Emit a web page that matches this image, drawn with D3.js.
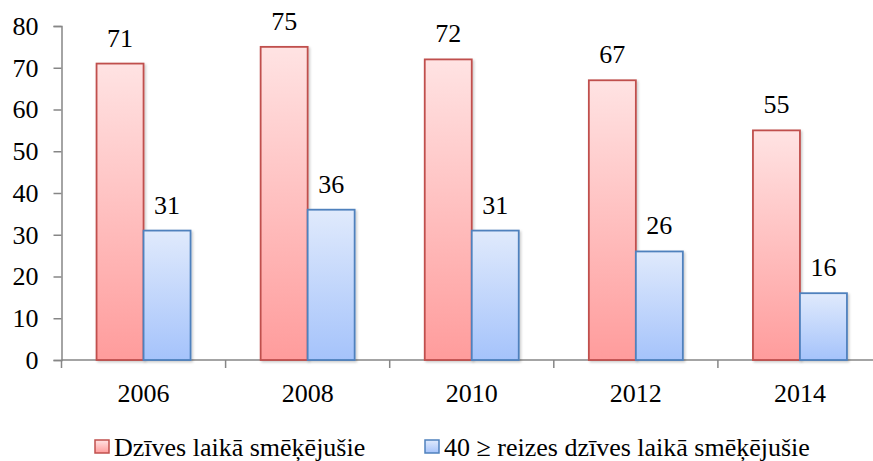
<!DOCTYPE html>
<html>
<head>
<meta charset="utf-8">
<title>Smēķēšana</title>
<script src="https://d3js.org/d3.v7.min.js"></script>
<style>
  body { margin: 0; background: #fff; }
  text { font-family: "Liberation Serif", "Times New Roman", serif; fill: #000; }
</style>
</head>
<body>
<script>
// data
var years = ["2006", "2008", "2010", "2012", "2014"];
var everSmoked = [71, 75, 72, 67, 55];
var smoked40 = [31, 36, 31, 26, 16];
var seriesNames = ["Dzīves laikā smēķējušie", "40 ≥ reizes dzīves laikā smēķējušie"];
var yTicks = [0, 10, 20, 30, 40, 50, 60, 70, 80];

var width = 873, height = 461;
var plotLeft = 61.5, plotRight = 882, plotTop = 26, plotBottom = 360;
var fs = 26;

var svg = d3.select("body").append("svg")
    .attr("width", width)
    .attr("height", height);

var defs = svg.append("defs");
function grad(id, c1, c2) {
  var g = defs.append("linearGradient")
      .attr("id", id)
      .attr("x1", 0).attr("x2", 0).attr("y1", 0).attr("y2", 1);
  g.append("stop").attr("offset", "0%").attr("stop-color", c1);
  g.append("stop").attr("offset", "100%").attr("stop-color", c2);
}
grad("g-red", "#ffe3e3", "#ff9c9c");
grad("g-blue", "#e0eafc", "#a5c3fb");

// light shadow like the office charts
var sh = defs.append("filter").attr("id", "shadow")
    .attr("x", "-10%").attr("y", "-10%").attr("width", "130%").attr("height", "130%");
sh.append("feDropShadow")
    .attr("dx", 1.5).attr("dy", 1.5).attr("stdDeviation", 1.2)
    .attr("flood-color", "#000").attr("flood-opacity", 0.2);

var x = d3.scaleBand().domain(years).range([plotLeft, plotRight]);
var y = d3.scaleLinear().domain([0, 80]).range([plotBottom, plotTop]);
var barW = 47;

// y axis
var yAxis = svg.append("g")
    .attr("transform", "translate(" + plotLeft + ",0)")
    .call(d3.axisLeft(y).tickValues(yTicks).tickSize(8).tickPadding(15));
yAxis.select(".domain").attr("stroke", "#868686").attr("stroke-width", 1.5);
yAxis.selectAll(".tick line").attr("stroke", "#868686").attr("stroke-width", 1.5);
yAxis.selectAll(".tick text")
    .attr("font-size", fs)
    .attr("font-family", "Liberation Serif, serif")
    .attr("fill", "#000");

// x axis
var xAxis = svg.append("g")
    .attr("transform", "translate(0," + plotBottom + ")");
xAxis.append("line")
    .attr("x1", plotLeft).attr("x2", plotRight)
    .attr("stroke", "#868686").attr("stroke-width", 1.5);
xAxis.selectAll(".xt")
    .data(years.map(function(d) { return x(d); }).concat([plotRight]))
  .enter().append("line")
    .attr("x1", function(d) { return d; }).attr("x2", function(d) { return d; })
    .attr("y1", 0).attr("y2", 8)
    .attr("stroke", "#868686").attr("stroke-width", 1.5);
xAxis.selectAll(".xl")
    .data(years)
  .enter().append("text")
    .attr("x", function(d) { return x(d) + x.bandwidth() / 2; })
    .attr("y", 42)
    .attr("text-anchor", "middle")
    .attr("font-size", fs)
    .text(function(d) { return d; });

// bars
function drawSeries(vals, offset, fill, stroke) {
  var g = svg.append("g");
  g.selectAll("rect")
      .data(vals)
    .enter().append("rect")
      .attr("x", function(d, i) { return x(years[i]) + x.bandwidth() / 2 + offset; })
      .attr("y", function(d) { return y(d); })
      .attr("width", barW)
      .attr("height", function(d) { return plotBottom - y(d); })
      .attr("fill", fill)
      .attr("stroke", stroke)
      .attr("stroke-width", 1.8)
      .attr("filter", "url(#shadow)");
  g.selectAll("text")
      .data(vals)
    .enter().append("text")
      .attr("x", function(d, i) { return x(years[i]) + x.bandwidth() / 2 + offset + barW / 2; })
      .attr("y", function(d) { return y(d) - 17; })
      .attr("text-anchor", "middle")
      .attr("font-size", fs)
      .text(function(d) { return d; });
}
drawSeries(everSmoked, -barW, "url(#g-red)", "#c0504d");
drawSeries(smoked40, 0, "url(#g-blue)", "#4f81bd");

// legend
var legend = svg.append("g");
var legItems = [
  {x: 95, fill: "url(#g-red)", stroke: "#c0504d", name: seriesNames[0]},
  {x: 425, fill: "url(#g-blue)", stroke: "#4f81bd", name: seriesNames[1]}
];
legItems.forEach(function(it) {
  legend.append("rect")
      .attr("x", it.x).attr("y", 440)
      .attr("width", 14).attr("height", 13)
      .attr("fill", it.fill)
      .attr("stroke", it.stroke)
      .attr("stroke-width", 1.5);
  legend.append("text")
      .attr("x", it.x + 19).attr("y", 456)
      .attr("font-size", fs)
      .text(it.name);
});
</script>
</body>
</html>
